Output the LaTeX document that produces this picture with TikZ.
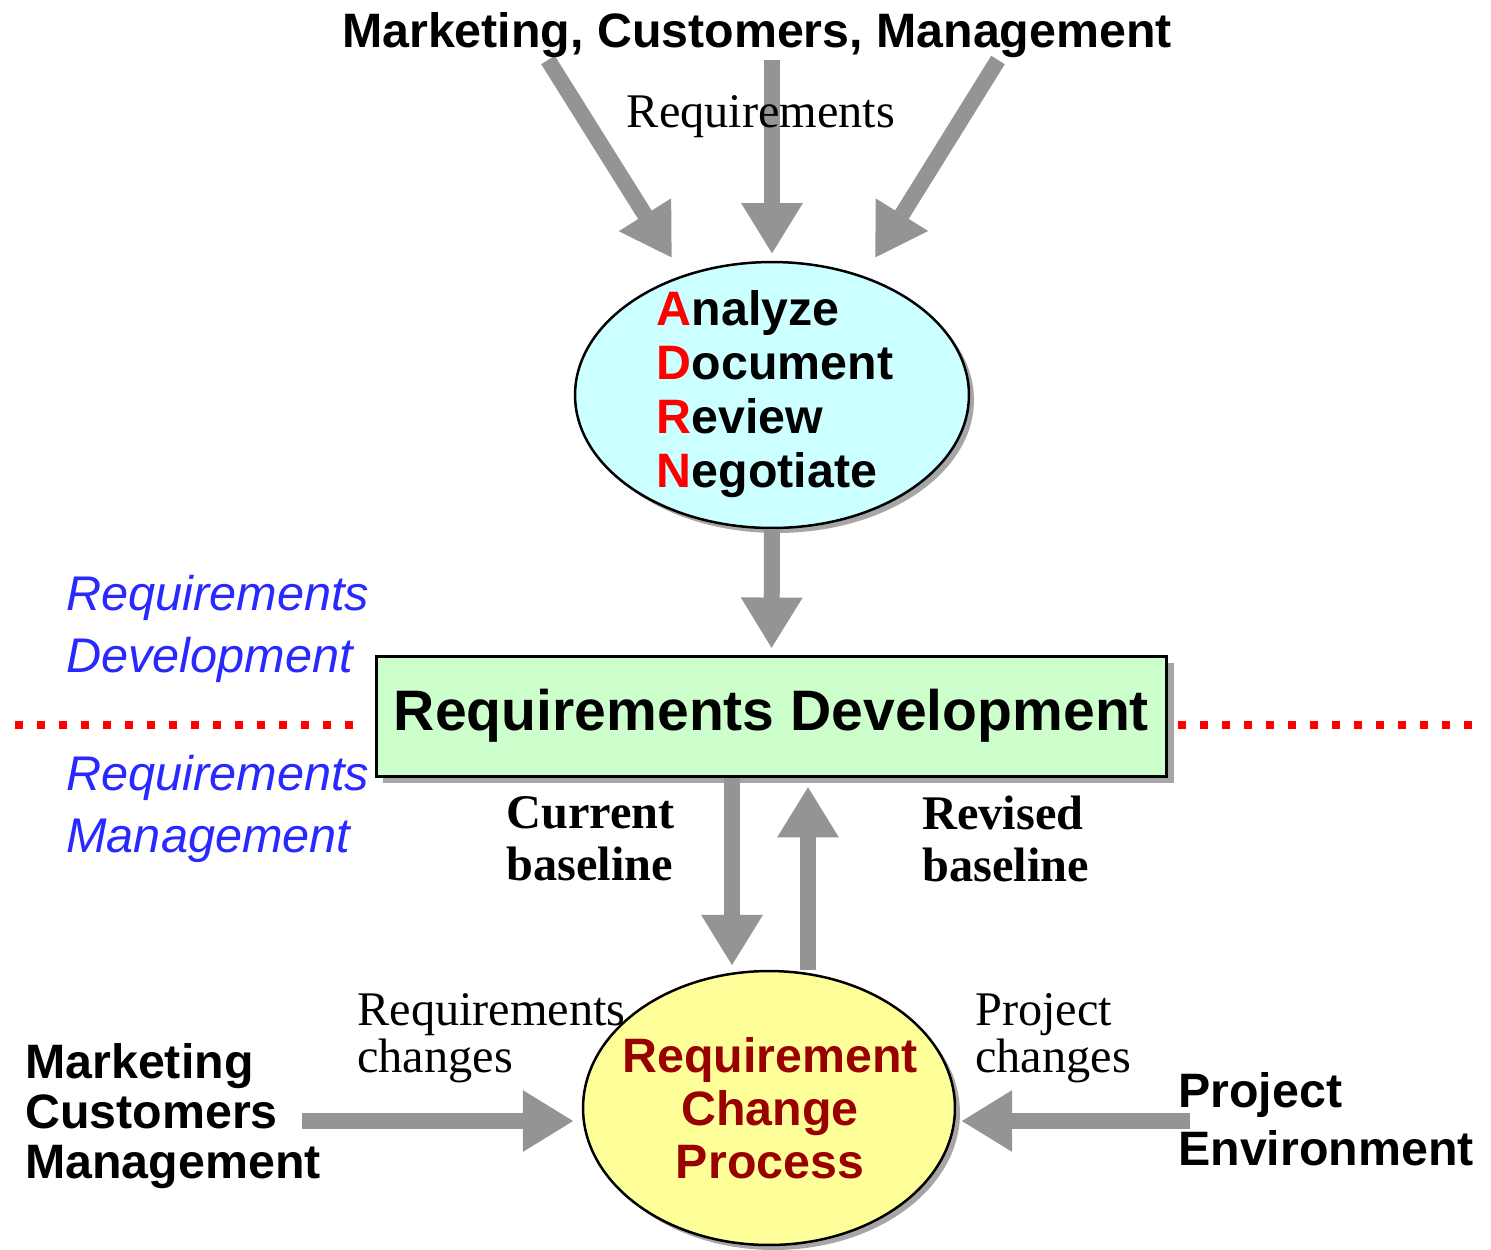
\documentclass[tikz,border=0pt]{standalone}
\usepackage{fontspec}
\setmainfont{Liberation Serif}
\setsansfont{Liberation Sans}
\usetikzlibrary{arrows.meta,shapes.geometric,shadows}
\definecolor{arrowgray}{RGB}{148,148,148}
\definecolor{adrnfill}{RGB}{204,255,255}
\definecolor{rdfill}{RGB}{204,255,204}
\definecolor{rcpfill}{RGB}{255,255,153}
\definecolor{rcptext}{RGB}{153,0,0}
\definecolor{areablue}{RGB}{40,40,255}
\begin{document}
\begin{tikzpicture}[x=0.02cm, y=-0.02cm,
    fatarrow/.style={arrowgray, line width=0.32cm, -{Triangle[width=1.16cm, length=1.02cm]}},
    bigsans/.style={font=\fontsize{27.5}{28.3}\selectfont\sffamily\bfseries, align=left, inner sep=0pt},
    serifnote/.style={font=\fontsize{27.5}{26.6}\selectfont, align=left, inner sep=0pt},
    areanote/.style={font=\fontsize{27.7}{35}\selectfont\sffamily\itshape, text=areablue, align=left, inner sep=0pt},
    bubble/.style={ellipse, draw, line width=0.05cm, inner sep=0pt,
        drop shadow={shadow xshift=0.1cm, shadow yshift=-0.1cm, fill=gray!70, opacity=1}},
    sepline/.style={red, line width=0.16cm, dash pattern=on 0.16cm off 0.28cm}]
    \useasboundingbox (0,0) rectangle (1491,1249);
    % separator between development and management
    \draw [sepline] (15,725) -- (362,725);
    \draw [sepline] (1178,725) -- (1485,725);
    % main shapes
    \node[bubble, fill=adrnfill, minimum width=7.88cm, minimum height=5.32cm] (adrn) at (772,395) {};
    \node[draw, line width=0.06cm, fill=rdfill, minimum width=15.82cm, minimum height=2.4cm,
        drop shadow={shadow xshift=0.14cm, shadow yshift=-0.14cm, fill=gray!70, opacity=1},
        font=\fontsize{32.5}{36}\selectfont\sffamily\bfseries] (rd) at (771.5,716) {Requirements Development};
    \node[bubble, fill=rcpfill, minimum width=7.44cm, minimum height=5.48cm] (rcp) at (769,1108) {};
    % arrow ends
    \coordinate (t1) at (548,60);
    \coordinate (h1) at (672,258);
    \coordinate (t2) at (772,60);
    \coordinate (h2) at (772,254);
    \coordinate (t3) at (998,60);
    \coordinate (h3) at (875,258);
    \coordinate (mt) at (302,1121);
    \coordinate (pt) at (1190,1121);
    % arrows
    \draw [fatarrow] (t1) -- (h1);
    \draw [fatarrow] (t2) -- (h2);
    \draw [fatarrow] (t3) -- (h3);
    \draw [fatarrow, shorten >=0.12cm] (adrn.south) -- (rd.north);
    \draw [fatarrow, shorten >=0.08cm] ([xshift=-0.79cm]rd.south) -- ([xshift=-0.79cm]rd.south |- rcp.north);
    \draw [fatarrow, shorten >=0.18cm] ([xshift=0.73cm]rd.south |- rcp.north) -- ([xshift=0.73cm]rd.south);
    \draw [fatarrow, shorten >=0.16cm] (mt) -- (rcp.west |- mt);
    \draw [fatarrow, shorten >=0.1cm] (pt) -- (rcp.east |- pt);
    % texts
    \node[bigsans, font=\fontsize{27.5}{30.6}\selectfont\sffamily\bfseries] (adrnlist) at (775,394)
        {\textcolor{red}{A}nalyze\\\textcolor{red}{D}ocument\\\textcolor{red}{R}eview\\\textcolor{red}{N}egotiate};
    \node[bigsans, align=center, text=rcptext, font=\fontsize{27.5}{30.3}\selectfont\sffamily\bfseries] (rcplist) at (770,1108)
        {Requirement\\Change\\Process};
    \node[bigsans] (mcmtop) at (757,35) {Marketing, Customers, Management};
    \node[serifnote] (reqin) at (761,117) {Requirements};
    \node[areanote, anchor=west] (devarea) at (66,629) {Requirements\\Development};
    \node[areanote, anchor=west] (mgmtarea) at (66,809) {Requirements\\Management};
    \node[serifnote, font=\fontsize{27.5}{29.5}\selectfont\bfseries, anchor=west] (curbase) at (506,839) {Current\\baseline};
    \node[serifnote, font=\fontsize{27.5}{29.5}\selectfont\bfseries, anchor=west] (revbase) at (922,839) {Revised\\baseline};
    \node[serifnote, anchor=west] (reqchg) at (357,1038) {Requirements\\changes};
    \node[serifnote, anchor=west] (projchg) at (975,1038) {Project\\changes};
    \node[bigsans, anchor=west] (mcmleft) at (25,1116) {Marketing\\Customers\\Management};
    \node[bigsans, font=\fontsize{27.5}{33}\selectfont\sffamily\bfseries, anchor=west] (projenv) at (1178,1119) {Project\\Environment};
\end{tikzpicture}
\end{document}
